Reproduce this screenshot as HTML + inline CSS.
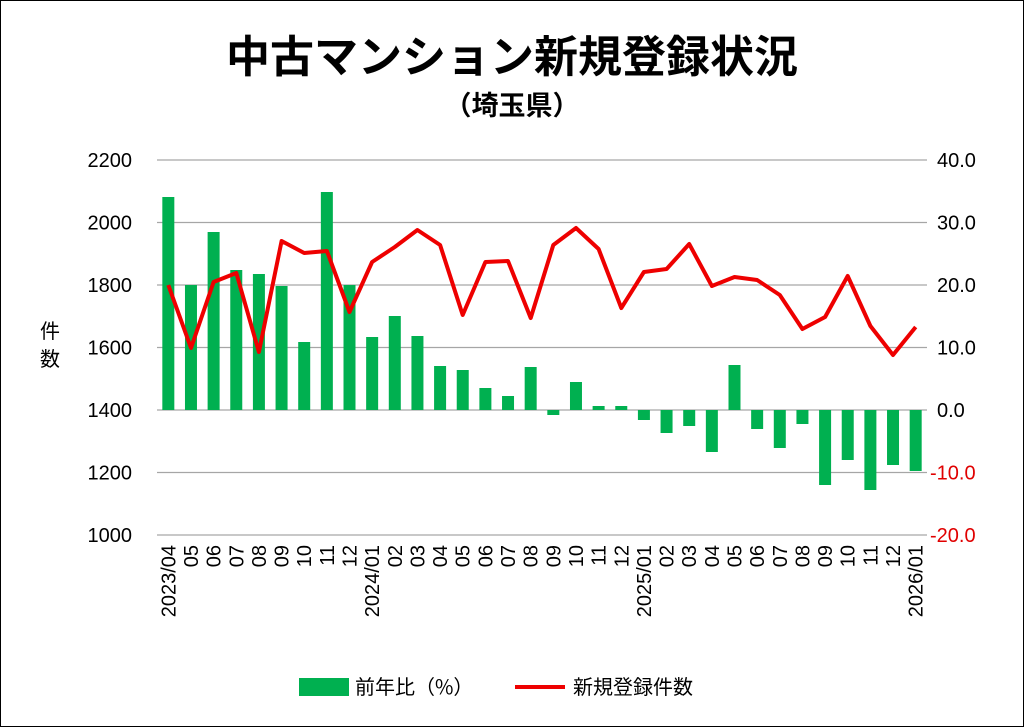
<!DOCTYPE html>
<html><head><meta charset="utf-8"><style>
html,body{margin:0;padding:0;background:#fff;}
svg{display:block;font-family:"Liberation Sans","Noto Sans CJK JP",sans-serif;}
</style></head><body>
<svg width="1024" height="727" viewBox="0 0 1024 727" xmlns="http://www.w3.org/2000/svg">
<rect x="0.5" y="0.5" width="1023" height="726" fill="#fff" stroke="#000" stroke-width="1"/>
<text x="512" y="72" text-anchor="middle" font-size="44" font-weight="bold" font-family="'Noto Sans CJK JP',sans-serif">中古マンション新規登録状況</text>
<text x="512" y="115" text-anchor="middle" font-size="27" font-weight="bold" font-family="'Noto Sans CJK JP',sans-serif">（埼玉県）</text>
<g stroke="#a6a6a6" stroke-width="1.3">
<line x1="157" y1="160" x2="927" y2="160"/><line x1="157" y1="222.5" x2="927" y2="222.5"/>
<line x1="157" y1="285" x2="927" y2="285"/><line x1="157" y1="347.5" x2="927" y2="347.5"/>
<line x1="157" y1="410" x2="927" y2="410"/><line x1="157" y1="472.5" x2="927" y2="472.5"/>
<line x1="157" y1="535" x2="927" y2="535"/>
</g>
<g font-size="20" text-anchor="end">
<text x="132" y="167">2200</text><text x="132" y="229.5">2000</text><text x="132" y="292">1800</text>
<text x="132" y="354.5">1600</text><text x="132" y="417">1400</text><text x="132" y="479.5">1200</text><text x="132" y="542">1000</text>
</g>
<g font-size="20" text-anchor="start">
<text x="937" y="167">40.0</text><text x="937" y="229.5">30.0</text><text x="937" y="292">20.0</text>
<text x="937" y="354.5">10.0</text><text x="937" y="417">0.0</text>
<text x="930" y="479.5" fill="#e00000">-10.0</text><text x="930" y="542" fill="#e00000">-20.0</text>
</g>
<text x="50" y="338" text-anchor="middle" font-size="20" font-family="'Noto Sans CJK JP',sans-serif">件</text>
<text x="50" y="366" text-anchor="middle" font-size="20" font-family="'Noto Sans CJK JP',sans-serif">数</text>
<g id="bars" fill="#00b050"></g>
<polyline id="line" fill="none" stroke="#ee0000" stroke-width="4" stroke-linejoin="round" points=""/>
<g id="xl" font-size="20"></g>
<rect x="299" y="678" width="50" height="18" fill="#00b050"/>
<text x="355" y="694" font-size="20" font-family="'Noto Sans CJK JP',sans-serif">前年比（%）</text>
<line x1="515" y1="687" x2="565" y2="687" stroke="#ee0000" stroke-width="4"/>
<text x="573" y="694" font-size="20" font-family="'Noto Sans CJK JP',sans-serif">新規登録件数</text>
<script>
var bt=[197,285,232,270,274,286,342,192,285,337,316,336,366,370,388,396,367,415,382,406,406,420,433,426,452,365,429,448,424,485,460,490,465,471];
var ly=[285,348,282,273,352,241,253,251,312,262,247,230,245,315,262,261,318,245,228,249,308,272,269,244,286,277,280,295,329,317,276,326,355,327];
var lab=["2023/04","05","06","07","08","09","10","11","12","2024/01","02","03","04","05","06","07","08","09","10","11","12","2025/01","02","03","04","05","06","07","08","09","10","11","12","2026/01"];
var w=770/34,ns="http://www.w3.org/2000/svg",b=document.getElementById("bars"),xl=document.getElementById("xl"),pts=[];
for(var i=0;i<34;i++){var cx=157+w*(i+0.5);
var r=document.createElementNS(ns,"rect");var t=bt[i];r.setAttribute("x",cx-6);r.setAttribute("width",12);
r.setAttribute("y",Math.min(t,410));r.setAttribute("height",Math.abs(t-410));b.appendChild(r);
pts.push(cx.toFixed(1)+","+ly[i]);
var tx=document.createElementNS(ns,"text");tx.setAttribute("transform","translate("+(cx+7)+",545) rotate(-90)");
tx.setAttribute("text-anchor","end");tx.textContent=lab[i];xl.appendChild(tx);}
document.getElementById("line").setAttribute("points",pts.join(" "));
</script>
</svg>
</body></html>
